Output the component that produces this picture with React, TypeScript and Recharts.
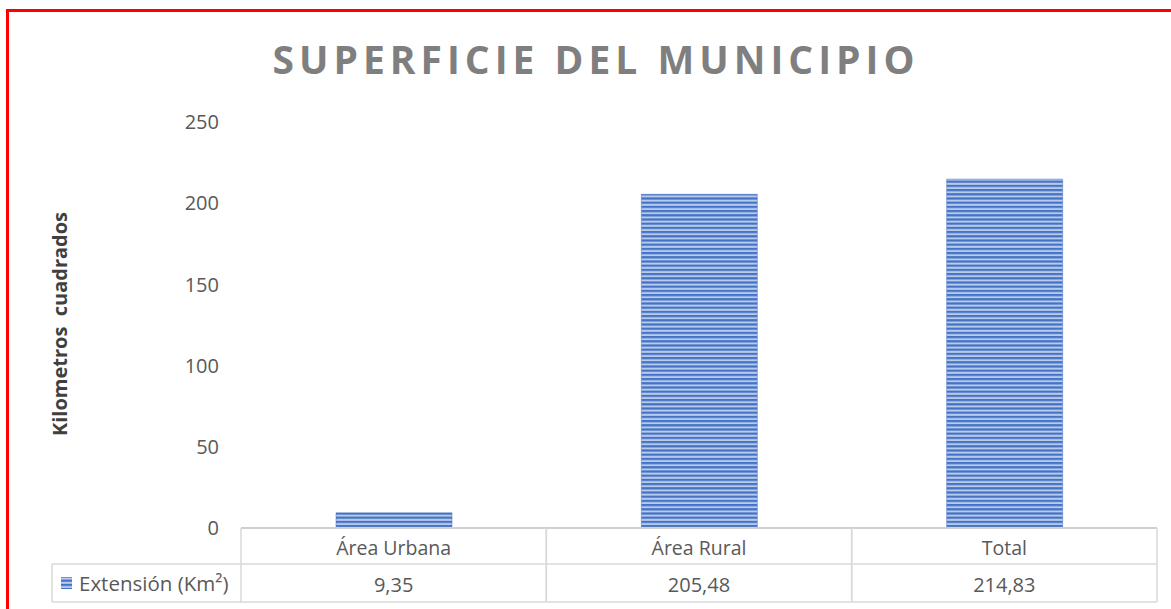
import React from 'react';
import { BarChart, Bar, XAxis, YAxis } from 'recharts';

const categories = ['Área Urbana', 'Área Rural', 'Total'];
const values = [9.35, 205.48, 214.83];
const valueLabels = ['9,35', '205,48', '214,83'];
const yTicks = [0, 50, 100, 150, 200, 250];
const seriesName = 'Extensión (Km²)';
const chartTitle = 'SUPERFICIE DEL MUNICIPIO';
const yAxisTitle = 'Kilometros  cuadrados';

const data = categories.map((c, i) => ({ category: c, value: values[i], label: valueLabels[i] }));

const FONT = '"Open Sans", Lato, sans-serif';
const TEXT = '#595959';
const GRID = '#d9d9d9';

function TableTick(props: any) {
  const { x, y, payload, index } = props;
  const half = payload && payload.offset ? payload.offset : 152.67;
  const left = x - half;
  const right = x + half;
  const r1 = 36;
  const r2 = 74;
  const item = data[index] || data.find((d) => d.category === payload.value);
  return (
    <g>
      <line x1={left} y1={y} x2={left} y2={y + r2} stroke={GRID} strokeWidth={1.5} />
      <line x1={right} y1={y} x2={right} y2={y + r2} stroke={GRID} strokeWidth={1.5} />
      <line x1={left} y1={y + r1} x2={right} y2={y + r1} stroke={GRID} strokeWidth={1.5} />
      <line x1={left} y1={y + r2} x2={right} y2={y + r2} stroke={GRID} strokeWidth={1.5} />
      <text x={x} y={y + 19} textAnchor="middle" dominantBaseline="central" fill={TEXT} fontSize={19.5} fontFamily={FONT}>
        {payload.value}
      </text>
      <text x={x} y={y + 56} textAnchor="middle" dominantBaseline="central" fill={TEXT} fontSize={20} fontFamily={FONT}>
        {item ? item.label : ''}
      </text>
      {index === 0 && (
        <g>
          <line x1={left - 189} y1={y + r1} x2={left} y2={y + r1} stroke={GRID} strokeWidth={1.5} />
          <line x1={left - 189} y1={y + r2} x2={left} y2={y + r2} stroke={GRID} strokeWidth={1.5} />
          <line x1={left - 189} y1={y + r1} x2={left - 189} y2={y + r2} stroke={GRID} strokeWidth={1.5} />
          <rect x={left - 180} y={y + 49} width={11} height={12} fill="url(#stripes)" />
          <text x={left - 162} y={y + 55} textAnchor="start" dominantBaseline="central" fill={TEXT} fontSize={20.5} fontFamily={FONT}>
            {seriesName}
          </text>
        </g>
      )}
    </g>
  );
}

export default function App() {
  return (
    <div style={{ position: 'absolute', left: 0, top: 0, width: 1171, height: 609, overflow: 'hidden', background: '#fff' }}>
      <div
        style={{
          position: 'absolute',
          left: 6,
          top: 9,
          width: 1250,
          height: 700,
          border: '3px solid #ff0000',
          boxSizing: 'border-box',
        }}
      />
      <div
        style={{
          position: 'absolute',
          left: 0,
          top: 29,
          width: 1192,
          textAlign: 'center',
          fontFamily: FONT,
          fontWeight: 700,
          fontSize: 39,
          letterSpacing: 5,
          color: '#7f7f7f',
          lineHeight: '60px',
        }}
      >
        {chartTitle}
      </div>
      <div
        style={{
          position: 'absolute',
          left: 60 - 150,
          top: 324 - 12,
          width: 300,
          height: 24,
          lineHeight: '24px',
          textAlign: 'center',
          transform: 'rotate(-90deg)',
          fontFamily: FONT,
          fontWeight: 700,
          fontSize: 20,
          color: '#404040',
          whiteSpace: 'pre',
        }}
      >
        {yAxisTitle}
      </div>
      <div style={{ position: 'absolute', left: 0, top: 0 }}>
        <BarChart width={1171} height={609} data={data} margin={{ top: 122, right: 14, bottom: 0, left: 0 }} barSize={116}>
          <defs>
            <pattern id="stripes" x="0" y="0" width="8" height="4.2" patternUnits="userSpaceOnUse">
              <rect x="0" y="0" width="8" height="4.2" fill="#b8cbec" />
              <rect x="0" y="0" width="8" height="2.2" fill="#4472c4" />
            </pattern>
          </defs>
          <YAxis
            width={241}
            domain={[0, 250]}
            ticks={yTicks}
            axisLine={false}
            tickLine={false}
            tickSize={0}
            tickMargin={22}
            tick={{ fill: TEXT, fontSize: 20, fontFamily: FONT }}
          />
          <XAxis
            dataKey="category"
            height={81}
            axisLine={{ stroke: '#d0d0d0', strokeWidth: 2 }}
            tickLine={false}
            tickSize={0}
            tickMargin={0}
            interval={0}
            tick={<TableTick />}
          />
          <Bar dataKey="value" name={seriesName} fill="url(#stripes)" stroke="#4472c4" strokeWidth={0.5} isAnimationActive={false} />
        </BarChart>
      </div>
    </div>
  );
}
